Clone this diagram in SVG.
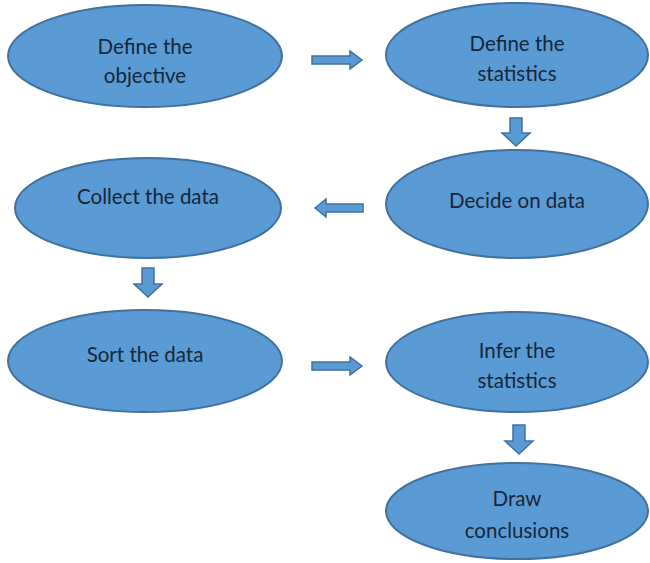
<svg xmlns="http://www.w3.org/2000/svg" width="650" height="563" viewBox="0 0 650 563">
<style>
.n{fill:#5b9bd5;stroke:#41719c;stroke-width:2}
.a{fill:#5b9bd5;stroke:#41719c;stroke-width:1.5}
text{font-family:Lato,"Open Sans","Liberation Sans",sans-serif;font-size:20.5px;fill:#15263a;text-anchor:middle}
</style>
<rect width="650" height="563" fill="#fff"/>
<g id="n1"><ellipse class="n" cx="145" cy="56" rx="137" ry="51"/><text x="145" y="54">Define the</text><text x="145" y="83">objective</text></g>
<g id="n2"><ellipse class="n" cx="517" cy="55" rx="131" ry="52"/><text x="517" y="51">Define the</text><text x="517" y="81">statistics</text></g>
<g id="n3"><ellipse class="n" cx="148" cy="208" rx="133" ry="50"/><text x="148" y="204">Collect the data</text></g>
<g id="n4"><ellipse class="n" cx="517" cy="204" rx="131" ry="54"/><text x="517" y="208">Decide on data</text></g>
<g id="n5"><ellipse class="n" cx="145" cy="361" rx="137" ry="51"/><text x="145" y="362">Sort the data</text></g>
<g id="n6"><ellipse class="n" cx="517" cy="362" rx="131" ry="50"/><text x="517" y="358">Infer the</text><text x="517" y="388">statistics</text></g>
<g id="n7"><ellipse class="n" cx="517" cy="511" rx="131" ry="48"/><text x="517" y="506">Draw</text><text x="517" y="538">conclusions</text></g>
<g id="connectors">
<polygon class="a" points="312,56 350,56 350,51 362,60 350,69 350,64 312,64"/>
<polygon class="a" points="510,118 522,118 522,133 530,133 516,146 502,133 510,133"/>
<polygon class="a" points="363,204 326,204 326,199 315,208 326,217 326,212 363,212"/>
<polygon class="a" points="142,268 154,268 154,284 162,284 148,297 134,284 142,284"/>
<polygon class="a" points="312,362 350,362 350,357 362,366 350,375 350,370 312,370"/>
<polygon class="a" points="513,425 525,425 525,441 533,441 519,454 505,441 513,441"/>
</g>
</svg>
